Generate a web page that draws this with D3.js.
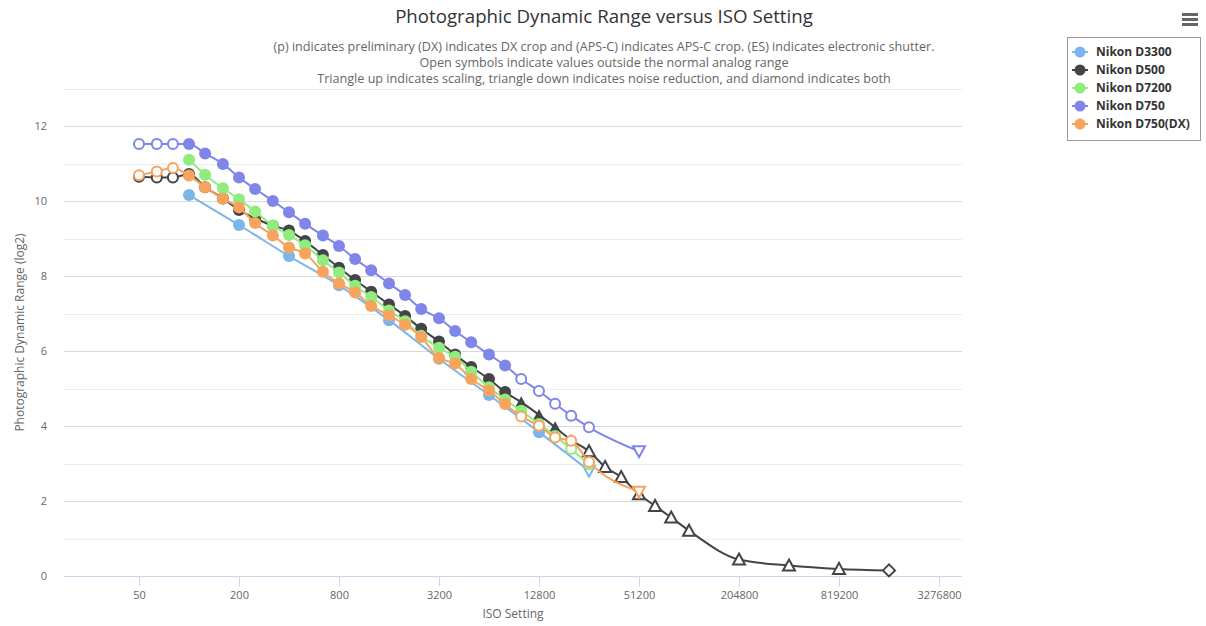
<!DOCTYPE html>
<html>
<head>
<meta charset="utf-8">
<script src="https://cdn.jsdelivr.net/npm/d3@7"></script>
<style>
  body { margin: 0; background: #fff; }
  svg { font-family: "Open Sans", "Liberation Sans", Arial, sans-serif; }
</style>
</head>
<body>
<svg id="chart" width="1206" height="626"></svg>
<script>
// marker codes: c = filled circle, o = open circle (outside analog range),
// tu = triangle up (scaling), TU = open triangle up, TD = open triangle down (noise reduction), D = open diamond (both)
var isoD3300 = [100, 200, 400, 800, 1600, 3200, 6400, 12800, 25600]
var drD3300 = [10.17, 9.37, 8.54, 7.76, 6.83, 5.80, 4.83, 3.84, 2.81]
var mkD3300 = ['c', 'c', 'c', 'c', 'c', 'c', 'c', 'c', 'TD']

var isoD500 = [50, 64, 80, 100, 125, 160, 200, 250, 320, 400, 500, 640, 800, 1000, 1250, 1600, 2000, 2500, 3200, 4000, 5000, 6400, 8000, 10000, 12800, 16000, 20000, 25600, 32000, 40000, 51200, 64000, 80000, 102400, 204800, 409600, 819200, 1638400]
var drD500 = [10.66, 10.64, 10.64, 10.73, 10.38, 10.08, 9.77, 9.55, 9.35, 9.22, 8.94, 8.57, 8.23, 7.90, 7.59, 7.25, 6.94, 6.60, 6.26, 5.91, 5.58, 5.26, 4.91, 4.64, 4.30, 3.97, 3.63, 3.33, 2.91, 2.64, 2.18, 1.87, 1.56, 1.21, 0.44, 0.28, 0.19, 0.15]
var mkD500 = ['o', 'o', 'o', 'c', 'c', 'c', 'c', 'c', 'c', 'c', 'c', 'c', 'c', 'c', 'c', 'c', 'c', 'c', 'c', 'c', 'c', 'c', 'c', 'tu', 'tu', 'tu', 'tu', 'TU', 'TU', 'TU', 'TU', 'TU', 'TU', 'TU', 'TU', 'TU', 'TU', 'D']

var isoD7200 = [100, 125, 160, 200, 250, 320, 400, 500, 640, 800, 1000, 1250, 1600, 2000, 2500, 3200, 4000, 5000, 6400, 8000, 10000, 12800, 16000, 20000, 25600]
var drD7200 = [11.11, 10.71, 10.35, 10.06, 9.73, 9.35, 9.10, 8.83, 8.43, 8.10, 7.75, 7.45, 7.09, 6.80, 6.41, 6.09, 5.85, 5.45, 5.04, 4.71, 4.41, 4.06, 3.74, 3.39, 2.98]
var mkD7200 = ['c', 'c', 'c', 'c', 'c', 'c', 'c', 'c', 'c', 'c', 'c', 'c', 'c', 'c', 'c', 'c', 'c', 'c', 'c', 'c', 'c', 'c', 'o', 'o', 'o']

var isoD750 = [50, 64, 80, 100, 125, 160, 200, 250, 320, 400, 500, 640, 800, 1000, 1250, 1600, 2000, 2500, 3200, 4000, 5000, 6400, 8000, 10000, 12800, 16000, 20000, 25600, 51200]
var drD750 = [11.53, 11.53, 11.53, 11.53, 11.28, 11.00, 10.64, 10.33, 10.01, 9.71, 9.40, 9.09, 8.81, 8.46, 8.16, 7.81, 7.50, 7.13, 6.88, 6.54, 6.24, 5.91, 5.62, 5.26, 4.94, 4.60, 4.28, 3.97, 3.33]
var mkD750 = ['o', 'o', 'o', 'c', 'c', 'c', 'c', 'c', 'c', 'c', 'c', 'c', 'c', 'c', 'c', 'c', 'c', 'c', 'c', 'c', 'c', 'c', 'c', 'o', 'o', 'o', 'o', 'o', 'TD']

var isoD750DX = [50, 64, 80, 100, 125, 160, 200, 250, 320, 400, 500, 640, 800, 1000, 1250, 1600, 2000, 2500, 3200, 4000, 5000, 6400, 8000, 10000, 12800, 16000, 20000, 25600, 51200]
var drD750DX = [10.70, 10.80, 10.89, 10.69, 10.38, 10.07, 9.84, 9.42, 9.09, 8.77, 8.61, 8.12, 7.81, 7.57, 7.21, 6.96, 6.71, 6.38, 5.82, 5.67, 5.26, 4.95, 4.59, 4.26, 4.01, 3.70, 3.61, 3.04, 2.25]
var mkD750DX = ['o', 'o', 'o', 'c', 'c', 'c', 'c', 'c', 'c', 'c', 'c', 'c', 'c', 'c', 'c', 'c', 'c', 'c', 'c', 'c', 'c', 'c', 'c', 'o', 'o', 'o', 'o', 'o', 'TD']

var seriesNames = ['Nikon D3300', 'Nikon D500', 'Nikon D7200', 'Nikon D750', 'Nikon D750(DX)']
var seriesColors = ['#7cb5ec', '#434348', '#90ed7d', '#8085e9', '#f7a35c']
var xTicks = [50, 200, 800, 3200, 12800, 51200, 204800, 819200, 3276800]

var subtitleLines = [
  '(p) indicates preliminary (DX) indicates DX crop and (APS-C) indicates APS-C crop. (ES) indicates electronic shutter.',
  'Open symbols indicate values outside the normal analog range',
  'Triangle up indicates scaling, triangle down indicates noise reduction, and diamond indicates both'
]

var isoSets = [isoD3300, isoD500, isoD7200, isoD750, isoD750DX]
var drSets = [drD3300, drD500, drD7200, drD750, drD750DX]
var mkSets = [mkD3300, mkD500, mkD7200, mkD750, mkD750DX]

var series = seriesNames.map(function (name, i) {
  return {
    name: name,
    color: seriesColors[i],
    points: isoSets[i].map(function (iso, j) {
      return { iso: iso, dr: drSets[i][j], mk: mkSets[i][j] }
    })
  }
})

var svg = d3.select('#chart')
var plot = { left: 64, right: 962, top: 89, bottom: 576 }

var x = d3.scaleLog().base(2)
  .domain([50 / Math.pow(2, 1.5), 50 * Math.pow(2, 16.46)])
  .range([plot.left, plot.right])
var y = d3.scaleLinear().domain([0, 13]).range([plot.bottom, plot.top])

// grid
var yGrid = d3.range(0, 14)
svg.append('g').selectAll('line').data(yGrid).enter().append('line')
  .attr('x1', plot.left).attr('x2', plot.right)
  .attr('y1', function (d) { return Math.round(y(d)) + 0.5 })
  .attr('y2', function (d) { return Math.round(y(d)) + 0.5 })
  .attr('stroke', function (d) { return d % 2 === 0 ? '#d8d8d8' : '#ededed' })
  .attr('stroke-width', 1)

// y labels
svg.append('g').selectAll('text').data(yGrid.filter(function (d) { return d % 2 === 0 })).enter().append('text')
  .attr('x', 47).attr('y', function (d) { return y(d) + 4 })
  .attr('text-anchor', 'end')
  .attr('font-size', 11).attr('fill', '#666')
  .text(function (d) { return d })

// x axis
var xAxis = d3.axisBottom(x).tickValues(xTicks).tickSize(10).tickFormat(d3.format('d'))
var gx = svg.append('g').attr('transform', 'translate(0,' + (plot.bottom + 0.5) + ')').call(xAxis)
gx.select('.domain').attr('stroke', '#ccd6eb').attr('d', 'M' + plot.left + ',0H' + plot.right)
gx.selectAll('.tick line').attr('stroke', '#ccd6eb')
gx.selectAll('.tick text').attr('fill', '#666').attr('font-size', 11).attr('dy', '0.85em')
  .attr('font-family', '"Open Sans", "Liberation Sans", Arial, sans-serif')

// axis titles
svg.append('text').attr('x', (plot.left + plot.right) / 2).attr('y', 618)
  .attr('text-anchor', 'middle').attr('font-size', 12).attr('fill', '#666').text('ISO Setting')
svg.append('text')
  .attr('transform', 'translate(24,' + ((plot.top + plot.bottom) / 2) + ') rotate(-90)')
  .attr('text-anchor', 'middle').attr('font-size', 12).attr('fill', '#666')
  .text('Photographic Dynamic Range (log2)')

// title and subtitle
svg.append('text').attr('x', 604).attr('y', 23).attr('text-anchor', 'middle')
  .attr('font-size', 18.7).attr('fill', '#333').text('Photographic Dynamic Range versus ISO Setting')
svg.append('g').selectAll('text').data(subtitleLines).enter().append('text')
  .attr('x', 604).attr('y', function (d, i) { return 51 + i * 16 })
  .attr('text-anchor', 'middle').attr('font-size', 12.6).attr('fill', '#666')
  .text(function (d) { return d })

// series
var line = d3.line()
  .x(function (d) { return x(d.iso) })
  .y(function (d) { return y(d.dr) })
  .curve(d3.curveMonotoneX)

function drawMarker (g, mk, color) {
  var open = mk === 'o' || mk === 'TU' || mk === 'TD' || mk === 'D'
  var shape
  if (mk === 'c' || mk === 'o') {
    shape = g.append('circle').attr('r', open ? 5 : 6)
  } else if (mk === 'tu' || mk === 'TU') {
    shape = g.append('path').attr('d', 'M0,-6L6,5L-6,5Z')
  } else if (mk === 'TD') {
    shape = g.append('path').attr('d', 'M0,6L6,-5L-6,-5Z')
  } else {
    shape = g.append('path').attr('d', 'M0,-6L6,0L0,6L-6,0Z')
  }
  if (open) {
    shape.attr('fill', '#fff').attr('stroke', color).attr('stroke-width', 2)
  } else {
    shape.attr('fill', color)
  }
}

series.forEach(function (s) {
  var g = svg.append('g')
  g.append('path').attr('d', line(s.points))
    .attr('fill', 'none').attr('stroke', s.color).attr('stroke-width', 2)
  s.points.forEach(function (p) {
    var m = g.append('g').attr('transform', 'translate(' + x(p.iso) + ',' + y(p.dr) + ')')
    drawMarker(m, p.mk, s.color)
  })
})

// legend
var legend = svg.append('g').attr('transform', 'translate(1067,37)')
legend.append('rect').attr('x', 0.5).attr('y', 0.5).attr('width', 133).attr('height', 103)
  .attr('fill', '#fff').attr('stroke', '#999').attr('stroke-width', 1)
series.forEach(function (s, i) {
  var item = legend.append('g').attr('transform', 'translate(0,' + (15 + i * 18) + ')')
  item.append('line').attr('x1', 5).attr('x2', 21).attr('y1', 0).attr('y2', 0)
    .attr('stroke', s.color).attr('stroke-width', 2)
  item.append('circle').attr('cx', 13).attr('cy', 0).attr('r', 5.5).attr('fill', s.color)
  item.append('text').attr('x', 29).attr('y', 4).attr('font-size', 12).attr('font-weight', 'bold')
    .attr('fill', '#333').text(s.name)
})

// menu icon
svg.append('g').selectAll('rect').data([0, 1, 2]).enter().append('rect')
  .attr('x', 1182).attr('y', function (d) { return 13 + d * 5 }).attr('width', 16).attr('height', 3)
  .attr('fill', '#666')
</script>
</body>
</html>
